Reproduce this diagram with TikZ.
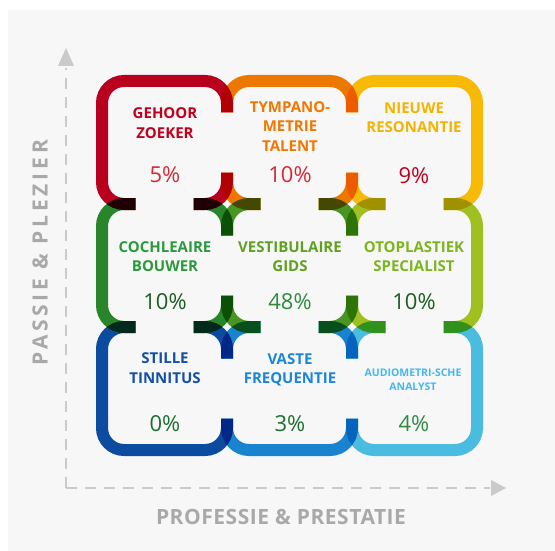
\documentclass[tikz,border=0pt]{standalone}
\usepackage{fontspec}
\setmainfont{Open Sans}
\definecolor{bgpanel}{HTML}{F7F7F7}
\definecolor{axisgray}{HTML}{CACACA}
\definecolor{labelgray}{HTML}{A9A9A9}
\definecolor{cred}{HTML}{BE0020}
\definecolor{corange}{HTML}{F57C00}
\definecolor{cyellow}{HTML}{FFC107}
\definecolor{cgreenA}{HTML}{2B8A2B}
\definecolor{cgreenB}{HTML}{4A9A24}
\definecolor{clime}{HTML}{A5C722}
\definecolor{cblueA}{HTML}{0D4FA6}
\definecolor{cblueB}{HTML}{1A88D6}
\definecolor{cblueC}{HTML}{4DC3E8}
\definecolor{tred}{HTML}{C0001E}
\definecolor{tredpct}{HTML}{D42A35}
\definecolor{torange}{HTML}{F07800}
\definecolor{tyellow}{HTML}{F2B400}
\definecolor{tgreenA}{HTML}{2A9A3C}
\definecolor{tgreenB}{HTML}{5FA021}
\definecolor{tlime}{HTML}{7DB51E}
\definecolor{tblueA}{HTML}{1450A5}
\definecolor{tblueB}{HTML}{1C86D6}
\definecolor{tblueC}{HTML}{40B8F2}
\definecolor{pctdark}{HTML}{1B5E20}
\definecolor{pctgreen}{HTML}{1B6E2E}
\definecolor{pctmid}{HTML}{2E8B40}
\begin{document}
\begin{tikzpicture}[x=1pt,y=-1pt,
  cellbox/.style={line width=12pt, rounded corners=22pt, blend mode=multiply},
  ttl/.style={font=\bfseries\fontsize{15}{19.5}\selectfont, align=center, inner sep=0pt},
  ttlsmall/.style={font=\bfseries\fontsize{10.5}{14}\selectfont, align=center, inner sep=0pt},
  pct/.style={font=\fontsize{22}{26}\selectfont, inner sep=0pt},
  axisline/.style={draw=axisgray, line width=2.5pt, dash pattern=on 11pt off 8pt},
  axistip/.style={fill=axisgray},
  axislabel/.style={text=labelgray, inner sep=0pt}]
\useasboundingbox (0,0) rectangle (555,551);
\fill[white] (0,0) rectangle (555,551);
\fill[bgpanel] (8,10) rectangle (555,551);

% axes
\coordinate (orig) at (66,488);
\coordinate (yend) at (66,68);
\coordinate (xend) at (490,488);
\draw[axisline] (orig) -- (yend);
\draw[axisline] (orig) -- (xend);
\fill[axistip] (66,48) -- (58,66) -- (74,66) -- cycle;
\fill[axistip] (506,488) -- (491,480) -- (491,496) -- cycle;
\node[axislabel, rotate=90, font=\bfseries\fontsize{21}{24}\selectfont\addfontfeature{LetterSpace=18}] (ylab) at (40,253) {PASSIE \& PLEZIER};
\node[axislabel, font=\bfseries\fontsize{21}{24}\selectfont\addfontfeature{LetterSpace=2.5}] (xlab) at (281,517) {PROFESSIE \& PRESTATIE};

% cells
\begin{scope}[even odd rule]
\clip (0,0) rectangle (555,551)
  (218,112.5) rectangle (236,172.5)
  (343,112.5) rectangle (361,172.5)
  (218,235.5) rectangle (236,295.5)
  (343,235.5) rectangle (361,295.5)
  (218,358.5) rectangle (236,418.5)
  (343,358.5) rectangle (361,418.5)
  (135.5,195) rectangle (193.5,213)
  (260.5,195) rectangle (318.5,213)
  (385.5,195) rectangle (443.5,213)
  (135.5,318) rectangle (193.5,336)
  (260.5,318) rectangle (318.5,336)
  (385.5,318) rectangle (443.5,336);
\draw[cellbox, draw=cred]    (102,81) rectangle (227,204);
\draw[cellbox, draw=corange] (227,81) rectangle (352,204);
\draw[cellbox, draw=cyellow] (352,81) rectangle (477,204);
\draw[cellbox, draw=cgreenA] (102,204) rectangle (227,327);
\draw[cellbox, draw=cgreenB] (227,204) rectangle (352,327);
\draw[cellbox, draw=clime]   (352,204) rectangle (477,327);
\draw[cellbox, draw=cblueA]  (102,327) rectangle (227,450);
\draw[cellbox, draw=cblueB]  (227,327) rectangle (352,450);
\draw[cellbox, draw=cblueC]  (352,327) rectangle (477,450);
\end{scope}

% texts row 1
\node[ttl, text=tred] (t11) at (165,123) {GEHOOR\\ZOEKER};
\node[pct, text=tredpct] (p11) at (165,175) {5\%};
\node[ttl, text=torange] (t12) at (290,126.5) {TYMPANO-\\METRIE\\TALENT};
\node[pct, text=tredpct] (p12) at (290,175) {10\%};
\node[ttl, text=tyellow] (t13) at (414,117.5) {NIEUWE\\RESONANTIE};
\node[pct, text=tred] (p13) at (414,176) {9\%};
% row 2
\node[ttl, text=tgreenA] (t21) at (165,256.5) {COCHLEAIRE\\BOUWER};
\node[pct, text=pctdark] (p21) at (165,302) {10\%};
\node[ttl, text=tgreenB] (t22) at (290,256.5) {VESTIBULAIRE\\GIDS};
\node[pct, text=pctmid] (p22) at (290,301.5) {48\%};
\node[ttl, text=tlime] (t23) at (414,256.5) {OTOPLASTIEK\\SPECIALIST};
\node[pct, text=pctdark] (p23) at (414,302) {10\%};
% row 3
\node[ttl, text=tblueA] (t31) at (165,368) {STILLE\\TINNITUS};
\node[pct, text=pctgreen] (p31) at (165,423.5) {0\%};
\node[ttl, text=tblueB] (t32) at (290,370) {VASTE\\FREQUENTIE};
\node[pct, text=pctgreen] (p32) at (290,423.5) {3\%};
\node[ttlsmall, text=tblueC] (t33) at (413,380) {AUDIOMETRI-SCHE\\ANALYST};
\node[pct, text=pctmid] (p33) at (414,423.5) {4\%};
\end{tikzpicture}
\end{document}
